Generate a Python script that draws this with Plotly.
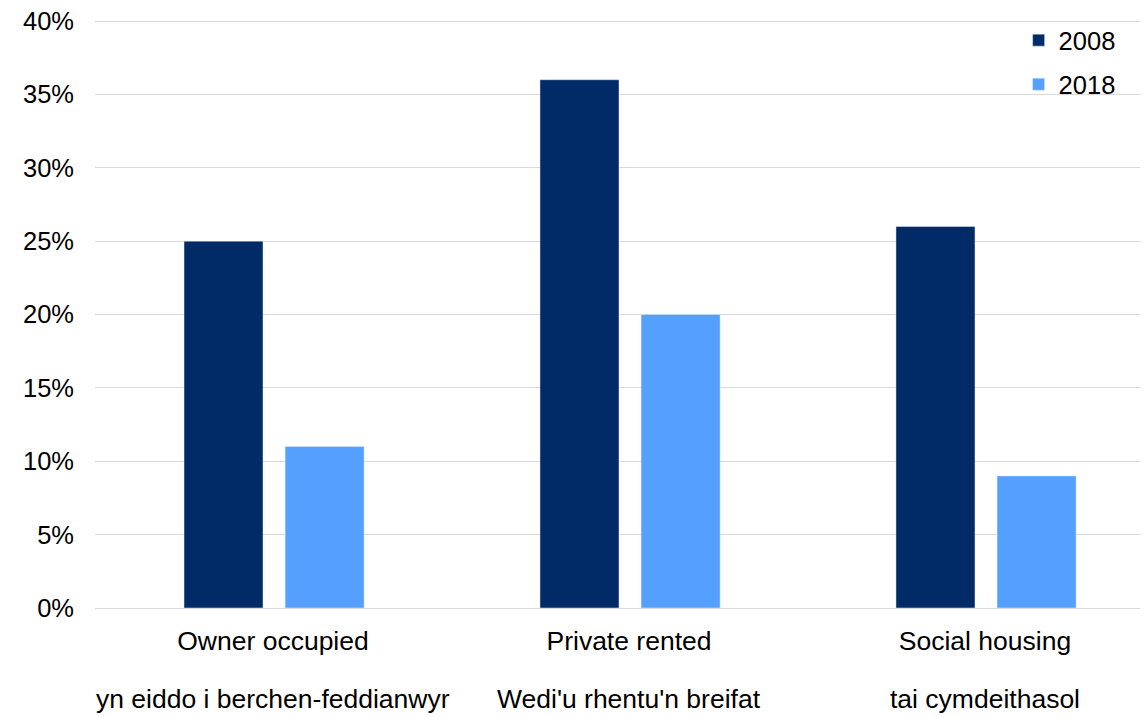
import plotly.graph_objects as go

categories_en = ["Owner occupied", "Private rented", "Social housing"]
categories_cy = ["yn eiddo i berchen-feddianwyr", "Wedi'u rhentu'n breifat", "tai cymdeithasol"]
values_2008 = [0.25, 0.36, 0.26]
values_2018 = [0.11, 0.20, 0.09]
y_ticks = [0, 0.05, 0.10, 0.15, 0.20, 0.25, 0.30, 0.35, 0.40]

x = list(range(len(categories_en)))
FONT = "Liberation Sans, Arial, sans-serif"

fig = go.Figure()
fig.add_trace(go.Bar(x=x, y=values_2008, name="2008", marker_color="#002B66",
                     width=0.222, offset=-0.25, legendgroup="a"))
fig.add_trace(go.Bar(x=x, y=values_2018, name="2018", marker_color="#559FFF",
                     width=0.222, offset=0.034, legendgroup="b"))

# Welsh second line under each category
for xi, txt in zip(x, categories_cy):
    fig.add_annotation(x=xi, xref="x", y=-91 / 588, yref="paper",
                       text=txt, showarrow=False, yanchor="middle",
                       font=dict(size=26.5, family=FONT, color="#000000"))

fig.update_layout(
    width=1140, height=709,
    margin=dict(l=87, r=0, t=12, b=109),
    plot_bgcolor="white", paper_bgcolor="white",
    font=dict(family=FONT, size=26, color="#000000"),
    barmode="overlay",
    showlegend=True,
    legend=dict(x=0.974, xanchor="right", y=1.005, yanchor="top",
                bgcolor="rgba(0,0,0,0)", font=dict(size=25.5),
                tracegroupgap=8, itemwidth=30),
    xaxis=dict(tickmode="array", tickvals=x, ticktext=categories_en,
               range=[-0.5, 2.458], showgrid=False, zeroline=False, showline=False,
               ticks="", tickfont=dict(size=26.5), ticklabelstandoff=14,
               ticklabeloverflow="allow"),
    yaxis=dict(range=[0, 0.4007], tickvals=y_ticks, tickformat=".0%",
               showgrid=True, gridcolor="#d9d9d9", gridwidth=1,
               zeroline=True, zerolinecolor="#d9d9d9", zerolinewidth=1,
               showline=False, ticks="", ticklabelstandoff=20,
               ticklabeloverflow="allow",
               tickfont=dict(size=25.5)),
)

fig.write_html("out.html")
